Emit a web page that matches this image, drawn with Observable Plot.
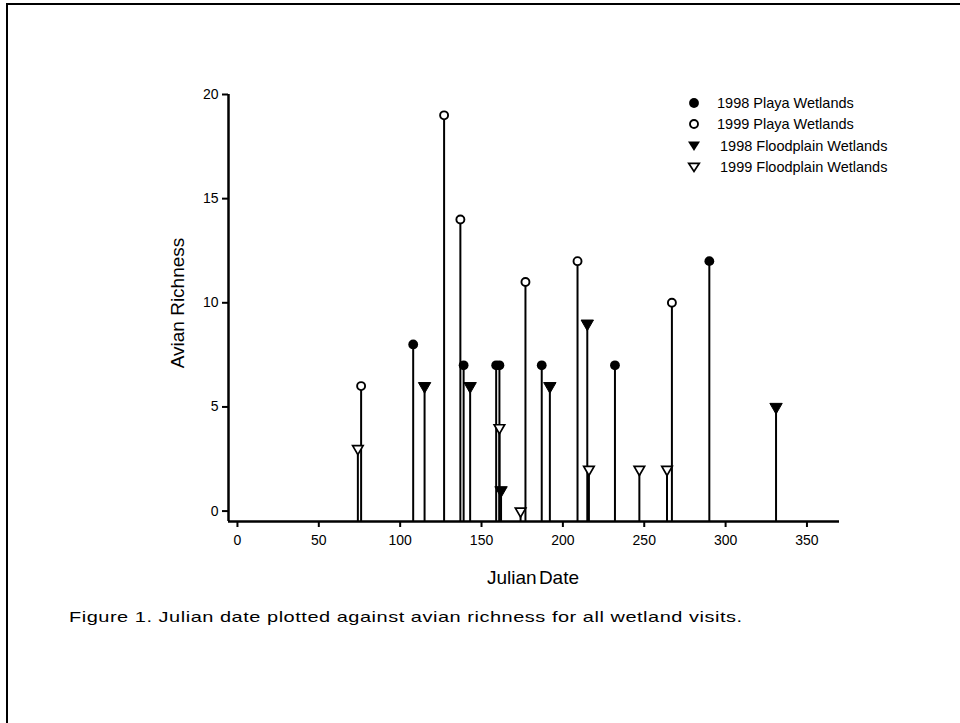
<!DOCTYPE html>
<html>
<head>
<meta charset="utf-8">
<script src="https://cdn.jsdelivr.net/npm/d3@7"></script>
<script src="https://cdn.jsdelivr.net/npm/@observablehq/plot@0.6"></script>
<style>
  html, body { margin: 0; padding: 0; background: #fff; }
  body { width: 960px; height: 723px; overflow: hidden; position: relative; font-family: "Liberation Sans", Arial, sans-serif; }
  #page-border { position: absolute; left: 6px; top: 3px; width: 1000px; height: 800px; border-left: 2px solid #000; border-top: 2px solid #000; }
  #chart { position: absolute; left: 0; top: 0; }
  .axis-title { position: absolute; font-size: 19px; color: #000; white-space: nowrap; }
  #ytitle { left: 178px; top: 303px; transform: translate(-50%, -50%) rotate(-90deg); }
  #xtitle { left: 533px; top: 578px; transform: translate(-50%, -50%); word-spacing: -3px; }
  #caption { position: absolute; left: 69px; top: 608px; font-size: 15px; letter-spacing: 0.4px; white-space: nowrap; transform-origin: 0 0; transform: scaleX(1.33); }
  #legend { position: absolute; left: 686px; top: 92px; font-size: 14.5px; }
  #legend .row { display: flex; align-items: center; height: 21.5px; }
  #legend svg { width: 16px; height: 16px; margin-right: 15px; flex: none; }
</style>
</head>
<body>
<div id="page-border"></div>
<div id="chart"></div>
<div id="ytitle" class="axis-title">Avian Richness</div>
<div id="xtitle" class="axis-title">Julian Date</div>
<div id="caption">Figure 1. Julian date plotted against avian richness for all wetland visits.</div>
<div id="legend"></div>
<script>
// ---- data ----
const playa1998Date = [108, 139, 159, 161, 187, 232, 290];
const playa1998Rich = [8, 7, 7, 7, 7, 7, 12];
const playa1999Date = [76, 127, 137, 177, 209, 267];
const playa1999Rich = [6, 19, 14, 11, 12, 10];
const flood1998Date = [115, 143, 162, 192, 215, 331];
const flood1998Rich = [6, 6, 1, 6, 9, 5];
const flood1999Date = [74, 161, 174, 216, 247, 264];
const flood1999Rich = [3, 4, 0, 2, 2, 2];

const seriesNames = ["1998 Playa Wetlands", "1999 Playa Wetlands", "1998 Floodplain Wetlands", "1999 Floodplain Wetlands"];
const xTicks = [0, 50, 100, 150, 200, 250, 300, 350];
const yTicks = [0, 5, 10, 15, 20];
const xDomain = [-5.5, 370];
const yDomain = [-0.5, 20];

// ---- build records ----
function rows(dates, rich, series) {
  return dates.map((d, i) => ({date: d, rich: rich[i], series}));
}
const p98 = rows(playa1998Date, playa1998Rich, seriesNames[0]);
const p99 = rows(playa1999Date, playa1999Rich, seriesNames[1]);
const f98 = rows(flood1998Date, flood1998Rich, seriesNames[2]);
const f99 = rows(flood1999Date, flood1999Rich, seriesNames[3]);
const all = [...p98, ...p99, ...f98, ...f99];

const chart = Plot.plot({
  width: 960,
  height: 600,
  marginLeft: 228,
  marginRight: 121,
  marginTop: 94,
  marginBottom: 79,
  style: {fontFamily: "'Liberation Sans', Arial, sans-serif", fontSize: "14px", color: "#000", background: "transparent"},
  x: {domain: xDomain},
  y: {domain: yDomain},
  marks: [
    Plot.ruleX(all, {x: "date", y1: yDomain[0], y2: "rich", stroke: "#000", strokeWidth: 2}),
    Plot.ruleY([yDomain[0]], {stroke: "#000", strokeWidth: 2.5}),
    Plot.ruleX([xDomain[0]], {stroke: "#000", strokeWidth: 2.5}),
    Plot.axisY({ticks: yTicks, tickSize: 6, tickPadding: 4, strokeWidth: 2, fontSize: 14, label: null}),
    Plot.axisX({ticks: xTicks, tickSize: 6, tickPadding: 8, strokeWidth: 2, fontSize: 14, label: null}),
    Plot.dot(f99, {x: "date", y: "rich", symbol: "triangle", rotate: 180, r: 3.9, fill: "#fff", stroke: "#000", strokeWidth: 1.7}),
    Plot.dot(f98, {x: "date", y: "rich", symbol: "triangle", rotate: 180, r: 4.6, fill: "#000", stroke: "#000", strokeWidth: 1}),
    Plot.dot(p99, {x: "date", y: "rich", symbol: "circle", r: 4, fill: "#fff", stroke: "#000", strokeWidth: 1.9}),
    Plot.dot(p98, {x: "date", y: "rich", symbol: "circle", r: 4.9, fill: "#000", stroke: "none"})
  ]
});
document.getElementById("chart").appendChild(chart);

// ---- legend ----
const symbols = [
  `<circle cx="8" cy="8" r="4.9" fill="#000"/>`,
  `<circle cx="8" cy="8" r="4" fill="#fff" stroke="#000" stroke-width="1.9"/>`,
  `<path d="M2,3.5 L14,3.5 L8,13 Z" fill="#000"/>`,
  `<path d="M2.7,4.3 L13.3,4.3 L8,12.5 Z" fill="#fff" stroke="#000" stroke-width="1.7" stroke-linejoin="miter"/>`
];
const legend = document.getElementById("legend");
seriesNames.forEach((name, i) => {
  const row = document.createElement("div");
  row.className = "row";
  row.innerHTML = `<svg viewBox="0 0 16 16">${symbols[i]}</svg><span style="margin-left:${i >= 2 ? 3 : 0}px">${name}</span>`;
  legend.appendChild(row);
});
</script>
</body>
</html>
